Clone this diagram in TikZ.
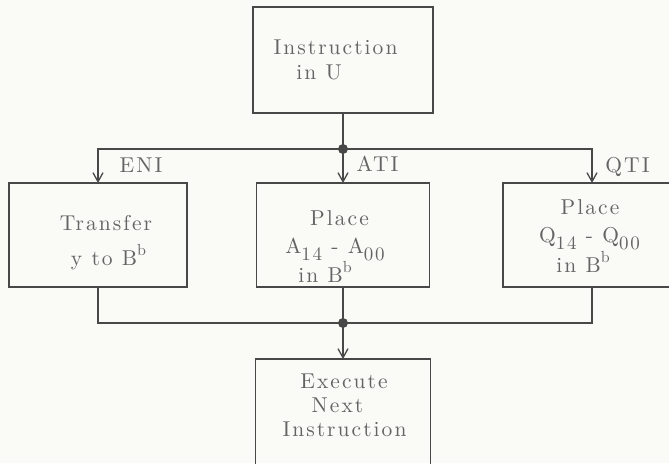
\documentclass[tikz,border=0pt]{standalone}
\usepackage{fontspec}
\usetikzlibrary{arrows.meta}
\newfontfamily\twfont{lmroman10-regular.otf}[LetterSpace=9.5]
\definecolor{bg}{RGB}{250,250,247}
\definecolor{ln}{RGB}{72,72,72}
\definecolor{tx}{RGB}{100,100,100}
\newcommand{\dn}[1]{\raisebox{-7pt}{\fontsize{19}{19}\selectfont #1}}
\newcommand{\up}[1]{\raisebox{10pt}{\fontsize{16}{16}\selectfont #1}}
\begin{document}
\begin{tikzpicture}[x=1pt,y=-1pt,
  box/.style={draw=ln,line width=1.4pt,rectangle,inner sep=0pt,outer sep=0pt},
  lbl/.style={text=tx,anchor=base,inner sep=0pt,outer sep=0pt,
    font={\twfont\fontsize{21.5}{24}\selectfont}},
  conn/.style={draw=ln,line width=1.4pt},
  arr/.style={conn,-{Straight Barb[length=9pt,width=10pt,line width=1.3pt]}},
  dot/.style={fill=ln}]
\useasboundingbox (0,0) rectangle (669,463);
\fill[bg] (0,0) rectangle (669,463);
\clip (0,0) rectangle (669,463);
% boxes
\node[box,minimum width=180pt,minimum height=106pt] (top) at (343,60) {};
\node[box,minimum width=178pt,minimum height=104pt] (left) at (98,235) {};
\node[box,minimum width=173pt,minimum height=104pt] (mid) at (343,235) {};
\node[box,minimum width=178pt,minimum height=104pt] (right) at (592,235) {};
\node[box,minimum width=175pt,minimum height=130pt] (bot) at (343,424) {};
% junctions
\coordinate (j1) at (343,149);
\coordinate (j2) at (343,323);
% connectors
\draw[conn] (top) -- (j1);
\draw[arr] (j1) -- (mid);
\draw[arr] (j1) -| (left);
\draw[arr] (j1) -| (right);
\draw[conn] (left) |- (j2);
\draw[conn] (right) |- (j2);
\draw[conn] (mid) -- (j2);
\draw[arr] (j2) -- (bot);
\fill[dot] (j1) circle (5);
\fill[dot] (j2) circle (5);
% labels
\node[lbl] (eni) at (141,172) {ENI};
\node[lbl] (ati) at (377.5,171) {ATI};
\node[lbl] (qti) at (627.5,172) {QTI};
% texts
\node[lbl] (t1) at (335.5,54) {Instruction};
\node[lbl] (t2) at (319,79) {in U};
\node[lbl] (l1) at (106,230) {Transfer};
\node[lbl] (l2) at (108.5,265) {y to B\up{b}};
\node[lbl] (m1) at (339.5,225) {Place};
\node[lbl] (m2) at (335,253) {A\dn{14} - A\dn{00}};
\node[lbl] (m3) at (325,282) {in B\up{b}};
\node[lbl] (r1) at (590,214) {Place};
\node[lbl] (r2) at (589.5,242) {Q\dn{14} - Q\dn{00}};
\node[lbl] (r3) at (583,272) {in B\up{b}};
\node[lbl] (b1) at (344,388) {Execute};
\node[lbl] (b2) at (337.5,412) {Next};
\node[lbl] (b3) at (344.5,436) {Instruction};
\end{tikzpicture}
\end{document}
